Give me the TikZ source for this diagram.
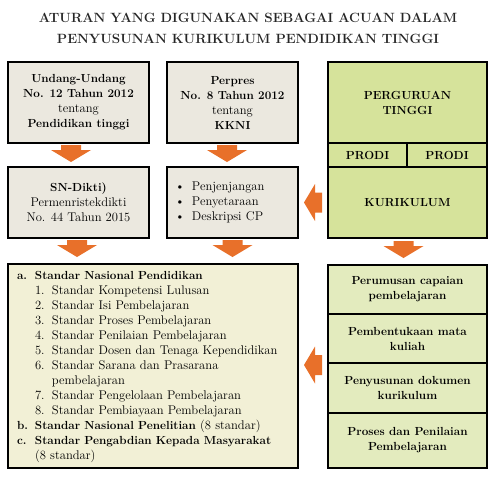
\documentclass[tikz,border=0pt]{standalone}
\usepackage{array}
\usetikzlibrary{positioning}

\definecolor{abu}{HTML}{EBE8DF}
\definecolor{hijau}{HTML}{D6E39B}
\definecolor{hijaumuda}{HTML}{E3EBBE}
\definecolor{krem}{HTML}{F2F0D6}
\definecolor{oranye}{HTML}{E8702A}

% huruf biasa sedikit lebih besar dari huruf tebal
\newcommand{\biasa}[1]{{\fontsize{12.6}{15}\selectfont\mdseries #1}}
\newcommand{\tebal}[1]{{\fontsize{11.7}{15}\selectfont\bfseries #1}}

\tikzset{
	kotak/.style={draw=black, line width=1.5pt, inner sep=0pt, outer sep=0pt, anchor=north west, align=center, font=\fontsize{11.7}{15}\selectfont\bfseries},
	abukotak/.style={kotak, fill=abu},
	hijaukotak/.style={kotak, fill=hijau},
	tahapkotak/.style={kotak, fill=hijaumuda, minimum width=159pt},
	pics/panahbawah/.style={code={
		\fill[oranye] (-10,0) -- (10,0) -- (10,5) -- (20,5) -- (0,17) -- (-20,5) -- (-10,5) -- cycle;}},
	pics/panahkiri/.style={code={
		\fill[oranye] (0,-10) -- (-7,-10) -- (-7,-18.5) -- (-18,0) -- (-7,18.5) -- (-7,10) -- (0,10) -- cycle;}}
}

\begin{document}
\begin{tikzpicture}[x=1pt,y=-1pt]
	\useasboundingbox (0,0) rectangle (496,479);
	
	\node[align=center, font=\fontsize{13.4}{21}\selectfont\bfseries, text=black!85] (judul) at (248,28)
		{ATURAN YANG DIGUNAKAN SEBAGAI ACUAN DALAM\\PENYUSUNAN KURIKULUM PENDIDIKAN TINGGI};
	
	% baris pertama
	\node[abukotak, minimum width=141pt, minimum height=81pt] (uu) at (8,62)
		{Undang-Undang\\No. 12 Tahun 2012\\\biasa{tentang}\\Pendidikan tinggi};
	\node[abukotak, minimum width=131pt, minimum height=81pt] (perpres) at (167,62)
		{Perpres\\No. 8 Tahun 2012\\\biasa{tentang}\\KKNI};
	\node[hijaukotak, minimum width=159pt, minimum height=81pt] (pt) at (328,62)
		{PERGURUAN\\TINGGI};
	\node[hijaukotak, minimum width=79pt, minimum height=24pt] (prodia) at (pt.south west) {PRODI};
	\node[hijaukotak, minimum width=80pt, minimum height=24pt] (prodib) at (prodia.north east) {PRODI};
	\node[hijaukotak, minimum width=159pt, minimum height=71pt] (kur) at (prodia.south west) {KURIKULUM};
	
	% baris kedua
	\node[abukotak, minimum width=141pt, minimum height=71pt] (sn) at (8,167)
		{SN-Dikti)\\\biasa{Permenristekdikti}\\\biasa{No. 44 Tahun 2015}};
	\node[abukotak, text width=115pt, inner xsep=8pt, minimum height=71pt, align=left, font=\fontsize{12.6}{15}\selectfont] (cp) at (167,167)
		{\begin{tabular}{@{}p{17pt}@{}l@{}}
			\textbullet & Penjenjangan\\
			\textbullet & Penyetaraan\\
			\textbullet & Deskripsi CP
		\end{tabular}};
	
	% standar
	\node[kotak, fill=krem, text width=272pt, inner xsep=9pt, minimum height=204pt, align=left, font=\fontsize{12.6}{15}\selectfont] (snp) at (8,264)
		{\begin{tabular}{@{}p{18pt}@{}p{17pt}@{}l@{}}
			\tebal{a.} & \multicolumn{2}{@{}l@{}}{\tebal{Standar Nasional Pendidikan}}\\
			& 1. & Standar Kompetensi Lulusan\\
			& 2. & Standar Isi Pembelajaran\\
			& 3. & Standar Proses Pembelajaran\\
			& 4. & Standar Penilaian Pembelajaran\\
			& 5. & Standar Dosen dan Tenaga Kependidikan\\
			& 6. & Standar Sarana dan Prasarana\\
			&    & pembelajaran\\
			& 7. & Standar Pengelolaan Pembelajaran\\
			& 8. & Standar Pembiayaan Pembelajaran\\
			\tebal{b.} & \multicolumn{2}{@{}l@{}}{\tebal{Standar Nasional Penelitian} (8 standar)}\\
			\tebal{c.} & \multicolumn{2}{@{}l@{}}{\tebal{Standar Pengabdian Kepada Masyarakat}}\\
			& \multicolumn{2}{@{}l@{}}{(8 standar)}
		\end{tabular}};
	
	% tahapan kurikulum
	\node[tahapkotak, minimum height=49pt] (tahapa) at (328,265) {Perumusan capaian\\pembelajaran};
	\node[tahapkotak, minimum height=49pt] (tahapb) at (tahapa.south west) {Pembentukaan mata\\kuliah};
	\node[tahapkotak, minimum height=50pt] (tahapc) at (tahapb.south west) {Penyusunan dokumen\\kurikulum};
	\node[tahapkotak, minimum height=55pt] (tahapd) at (tahapc.south west) {Proses dan Penilaian\\Pembelajaran};
	
	% panah
	\pic at ([shift={(-7.5,2)}]uu.south) {panahbawah};
	\pic at ([shift={(-5.5,2)}]perpres.south) {panahbawah};
	\pic at ([shift={(-1.5,2)}]sn.south) {panahbawah};
	\pic at ([shift={(0,2)}]cp.south) {panahbawah};
	\pic at ([shift={(-4,3)}]kur.south) {panahbawah};
	\pic at ([xshift=-6pt]kur.west) {panahkiri};
	\pic at ([shift={(-6,2)}]tahapc.north west) {panahkiri};
\end{tikzpicture}
\end{document}
